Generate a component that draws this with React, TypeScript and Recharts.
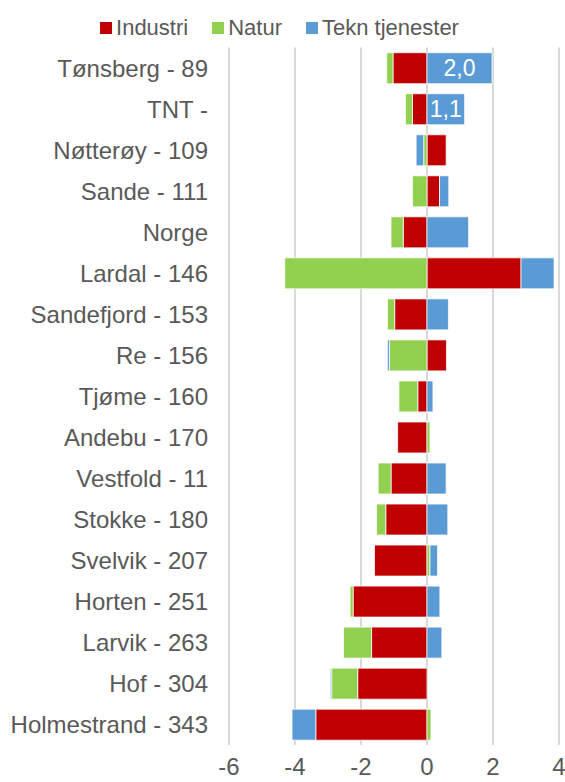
import React from 'react';
import { BarChart, Bar, XAxis, YAxis, CartesianGrid, Legend, LabelList } from 'recharts';

const names = [
  'Tønsberg - 89', 'TNT - ', 'Nøtterøy - 109', 'Sande - 111', 'Norge', 'Lardal - 146',
  'Sandefjord - 153', 'Re - 156', 'Tjøme - 160', 'Andebu - 170', 'Vestfold - 11',
  'Stokke - 180', 'Svelvik - 207', 'Horten - 251', 'Larvik - 263', 'Hof - 304', 'Holmestrand - 343',
];
const industri = [-1.03, -0.44, 0.58, 0.38, -0.72, 2.85, -0.98, 0.59, -0.28, -0.89, -1.09, -1.25, -1.59, -2.24, -1.68, -2.1, -3.37];
const natur = [-0.19, -0.21, -0.1, -0.44, -0.37, -4.31, -0.22, -1.14, -0.57, 0.09, -0.39, -0.28, 0.09, -0.09, -0.85, -0.79, 0.12];
const tekn = [1.97, 1.14, -0.23, 0.28, 1.26, 1.0, 0.65, -0.06, 0.18, 0, 0.58, 0.63, 0.23, 0.39, 0.45, -0.04, -0.72];
const teknLabels = ['2,0', '1,1', '', '', '', '', '', '', '', '', '', '', '', '', '', '', ''];
const xTicks = [-6, -4, -2, 0, 2, 4];

const data = names.map((name, i) => ({
  name,
  industri: industri[i],
  natur: natur[i],
  tekn: tekn[i],
  teknLabel: teknLabels[i],
}));

const font = '"Liberation Sans", Arial, sans-serif';
const textColor = '#595959';

const legendItems = [
  { label: 'Industri', color: '#C00000' },
  { label: 'Natur', color: '#92D050' },
  { label: 'Tekn tjenester', color: '#5B9BD5' },
];

const ChartLegend = () => (
  <div style={{ display: 'flex', justifyContent: 'center', alignItems: 'center', height: 40, fontFamily: font, fontSize: 22, color: textColor }}>
    {legendItems.map((it, i) => (
      <span key={it.label} style={{ display: 'flex', alignItems: 'center', marginLeft: i === 0 ? 0 : 24 }}>
        <span style={{ width: 12, height: 12, background: it.color, marginRight: 4, display: 'inline-block' }} />
        {it.label}
      </span>
    ))}
  </div>
);

export default function App() {
  return (
    <div style={{ position: 'absolute', left: 0, top: 0, width: 565, height: 782, background: '#fff' }}>
      <BarChart
        width={565}
        height={782}
        data={data}
        layout="vertical"
        stackOffset="sign"
        barCategoryGap="12.7%"
        margin={{ top: 7.5, right: 6, left: 0, bottom: 0 }}
      >
        <CartesianGrid horizontal={false} stroke="#D9D9D9" strokeWidth={2} />
        <XAxis
          type="number"
          domain={[-6, 4]}
          ticks={xTicks}
          axisLine={false}
          tickLine={false}
          tickSize={0}
          tickMargin={13}
          height={37}
          tick={{ fill: textColor, fontSize: 24, fontFamily: font }}
        />
        <YAxis
          type="category"
          dataKey="name"
          width={229}
          axisLine={false}
          tickLine={false}
          tickSize={0}
          tickMargin={21}
          interval={0}
          tick={{ fill: textColor, fontSize: 24, fontFamily: font }}
        />
        <Legend verticalAlign="top" content={<ChartLegend />} />
        <Bar dataKey="industri" name="Industri" stackId="a" fill="#C00000" stroke="#fff" strokeWidth={0.75} isAnimationActive={false} />
        <Bar dataKey="natur" name="Natur" stackId="a" fill="#92D050" stroke="#fff" strokeWidth={0.75} isAnimationActive={false} />
        <Bar dataKey="tekn" name="Tekn tjenester" stackId="a" fill="#5B9BD5" stroke="#fff" strokeWidth={0.75} isAnimationActive={false}>
          <LabelList dataKey="teknLabel" position="center" fill="#fff" fontSize={23} fontFamily={font} />
        </Bar>
      </BarChart>
    </div>
  );
}
